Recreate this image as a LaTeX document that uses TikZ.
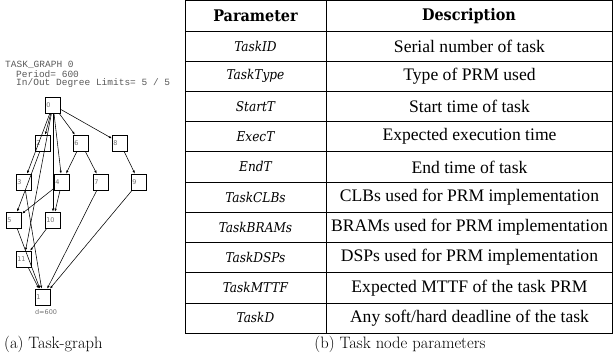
\documentclass[tikz,border=0pt]{standalone}
\usepackage{fontspec}
\usetikzlibrary{arrows.meta,positioning}
\newfontfamily\monofont{Liberation Mono}
\newfontfamily\labelfont{DejaVu Sans}
\newfontfamily\descfont{Liberation Serif}
\newfontfamily\paramfont{DejaVu Serif Condensed}
\newfontfamily\headfont{DejaVu Serif Condensed}

\begin{document}
\begin{tikzpicture}
[x=1pt,y=-1pt,
  taskDecorate/.style={draw,line width=0.75pt,minimum width=15.5pt,minimum height=16pt,
    inner sep=0.8pt,text width=13.5pt,align=left,text=black!55,
    font=\labelfont\fontsize{6.5}{7}\selectfont},
  edgeDecorate/.style={-{Latex[length=3pt,width=2.4pt]},line width=0.55pt},
  titleDecorate/.style={anchor=west,inner sep=0pt,text=black!65,
    font=\monofont\fontsize{9.5}{9.5}\selectfont},
  headDecorate/.style={font=\headfont\bfseries\fontsize{16}{16}\selectfont},
  paramDecorate/.style={font=\paramfont\itshape\fontsize{13.5}{13.5}\selectfont},
  descDecorate/.style={font=\descfont\fontsize{17.6}{17.6}\selectfont},
  captionDecorate/.style={font=\fontsize{16.5}{16.5}\selectfont}]
\useasboundingbox (0,0) rectangle (613,358);

%% header of the task graph
\node (title)  at (5,65)  [titleDecorate] {TASK\_GRAPH 0};
\node (period) at (16,74) [titleDecorate] {Period= 600};
\node (limits) at (16,83) [titleDecorate] {In/Out Degree Limits= 5 / 5};

%% tasks
\foreach \nodename/\x/\y in {
  0/53/105,
  2/43/143,  6/81/143,  8/120/143,
  3/24/182,  4/62/182,  7/101/182, 9/139/182,
  5/14/220,  10/53/220,
  11/24/259,
  1/43/297}
{
  \node (\nodename) at (\x,\y) [taskDecorate] {\nodename};
}
\node (deadline) [below=4pt of 1.south west,anchor=north west,inner sep=0pt,
  text=black!55,font=\labelfont\fontsize{6.5}{7}\selectfont] {d=600};

%% precedence edges
\path
\foreach \startnode/\endnode in {
  0/2, 0/3, 0/4, 0/6, 0/8, 0/10, 0/11,
  2/5, 6/4, 6/7, 8/9,
  3/1, 4/5, 4/10, 10/11,
  5/1, 11/1, 7/1, 9/1}
{
  (\startnode) edge[edgeDecorate] (\endnode)
};

%% parameter table
\draw[line width=0.6pt] (185,0.8) rectangle (612,333);
\draw[line width=0.6pt] (326,0.8) -- (326,333);
\foreach \k in {1,...,10}
  \draw[line width=0.6pt] (185,0.8+30.2*\k) -- (612,0.8+30.2*\k);

\node (headParam) at (255.5,15.9) [headDecorate] {Parameter};
\node (headDesc)  at (469,15.9)   [headDecorate] {Description};

\foreach \row/\param/\desc in {
  1/TaskID/Serial number of task,
  2/TaskType/Type of PRM used,
  3/StartT/Start time of task,
  4/ExecT/Expected execution time,
  5/EndT/End time of task,
  6/TaskCLBs/CLBs used for PRM implementation,
  7/TaskBRAMs/BRAMs used for PRM implementation,
  8/TaskDSPs/DSPs used for PRM implementation,
  9/TaskMTTF/Expected MTTF of the task PRM,
  10/TaskD/{Any soft/hard deadline of the task}}
{
  \node (param\row) at (255.5,15.9+30.2*\row) [paramDecorate] {\param};
  \node (desc\row)  at (469.5,15.9+30.2*\row) [descDecorate] {\desc};
}

%% captions
\node (capA) at (4,344) [captionDecorate,anchor=west,inner sep=0pt] {(a) Task-graph};
\node (capB) at (400,344) [captionDecorate] {(b) Task node parameters};
\end{tikzpicture}
\end{document}
